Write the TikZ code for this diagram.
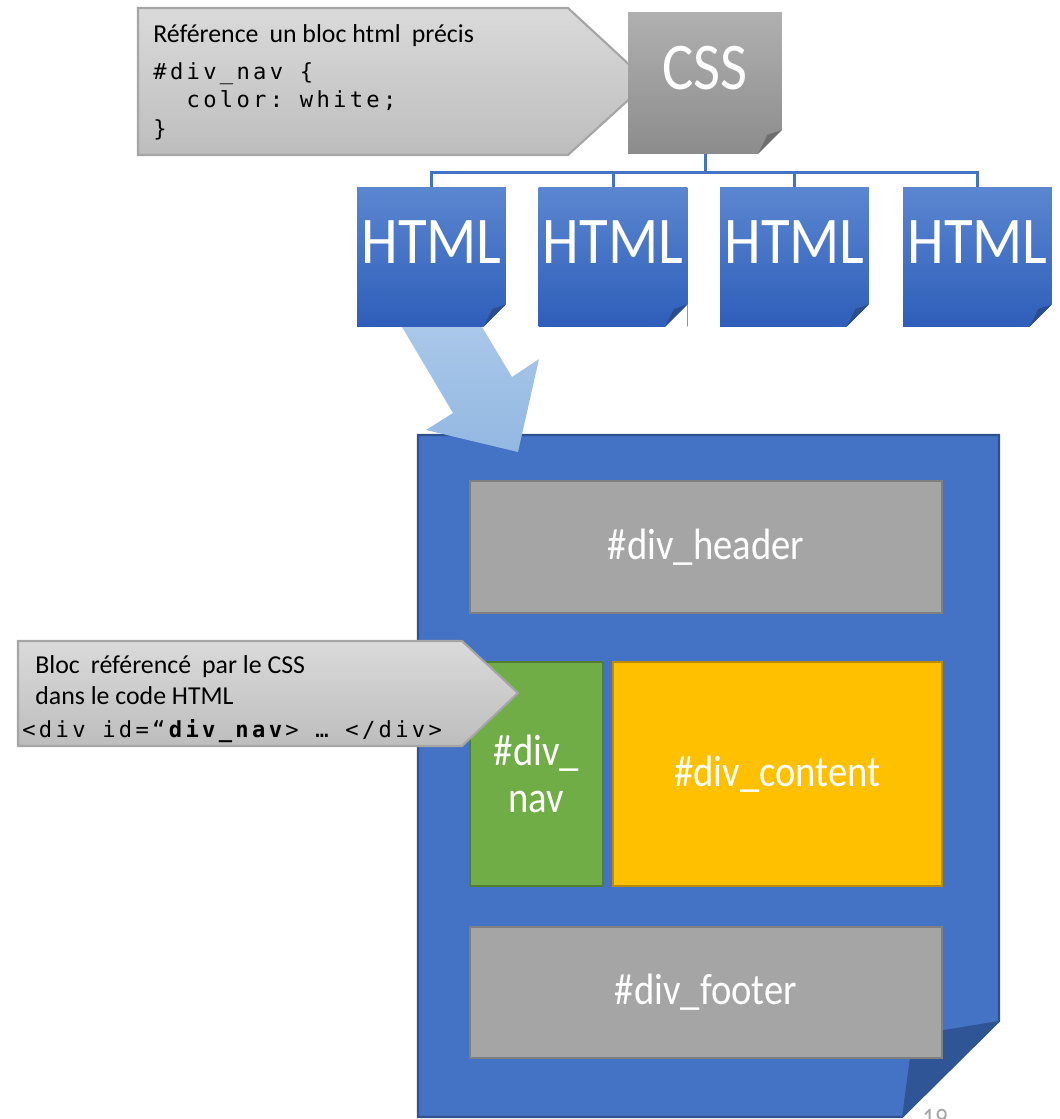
\documentclass[tikz,border=0pt]{standalone}
\usepackage{fontspec}
\setmainfont{Carlito}[FakeStretch=0.88]
\setmonofont{DejaVu Sans Mono}[LetterSpace=15]
\newfontfamily\calloutfont{Carlito}
\usetikzlibrary{calc,positioning}
\definecolor{sl-blue}{HTML}{4472C4}
\definecolor{sl-blueline}{HTML}{2F528F}
\definecolor{sl-bluefold}{HTML}{2F5597}
\definecolor{sl-htmltop}{HTML}{5B86D0}
\definecolor{sl-htmlbot}{HTML}{2E5EBA}
\definecolor{sl-htmlfold}{HTML}{2A4D8F}
\definecolor{sl-csstop}{HTML}{B0B0B0}
\definecolor{sl-cssbot}{HTML}{8C8C8C}
\definecolor{sl-cssfold}{HTML}{6E6E6E}
\definecolor{sl-calltop}{HTML}{DADADA}
\definecolor{sl-callbot}{HTML}{BDBDBD}
\definecolor{sl-callline}{HTML}{A5A5A5}
\definecolor{sl-gray}{HTML}{A5A5A5}
\definecolor{sl-grayline}{HTML}{7F7F7F}
\definecolor{sl-green}{HTML}{70AD47}
\definecolor{sl-greenline}{HTML}{507E32}
\definecolor{sl-gold}{HTML}{FFC000}
\definecolor{sl-goldline}{HTML}{BC8C00}
\definecolor{sl-arrowtop}{HTML}{A9C7E9}
\definecolor{sl-arrowbot}{HTML}{93B8E2}

% dog-ear in the lower right corner of a node (size, colour)
\newcommand\dogear[2]{%
  \fill[white] ([yshift=#1]path picture bounding box.south east)
    -- (path picture bounding box.south east)
    -- ([xshift=-#1]path picture bounding box.south east) -- cycle;
  \fill[#2] ([yshift=#1]path picture bounding box.south east)
    -- ([xshift=-0.6*#1,yshift=0.8*#1]path picture bounding box.south east)
    -- ([xshift=-#1]path picture bounding box.south east) -- cycle;}
\newcommand\wsp{\hspace{0.2em}}

\begin{document}
\begin{tikzpicture}[x=0.02cm, y=-0.02cm,
    docbox/.style={minimum width=2.98cm, minimum height=2.8cm, inner sep=0pt,
      text=white, font=\fontsize{38}{40}\selectfont, text depth=0.6cm,
      top color=sl-htmltop, bottom color=sl-htmlbot,
      path picture={\dogear{0.45cm}{sl-htmlfold}}},
    cssbox/.style={docbox, minimum width=3.08cm, minimum height=2.84cm,
      top color=sl-csstop, bottom color=sl-cssbot,
      path picture={\dogear{0.48cm}{sl-cssfold}}},
    blockbox/.style={draw, line width=1.2pt, inner sep=0pt, text=white,
      font=\fontsize{25}{27}\selectfont, align=center},
    callout/.style={draw=sl-callline, line width=1.2pt,
      top color=sl-calltop, bottom color=sl-callbot},
    calltext/.style={anchor=north west, inner sep=0pt, align=left,
      font=\calloutfont\fontsize{14.7}{18}\selectfont},
    codetext/.style={anchor=north west, inner sep=0pt, align=left,
      font=\ttfamily\fontsize{12.6}{16.4}\selectfont},
    tree/.style={draw=sl-blue, line width=1.7pt}]
  \useasboundingbox (0,0) rectangle (1059,1119);
  \clip (0,0) rectangle (1059,1119);

  % callout towards the CSS sheet
  \path[callout] (138,8) -- (568,8) -- (648,82) -- (568,155) -- (138,155) -- cycle;
  \node[calltext] (reftext) at (153,24) {Référence\wsp{} un bloc html\wsp{} précis};
  \node[codetext] (refcode) at (153,62)
    {\#div\_nav {\char`\{}\\\ \ color: white;\\{\char`\}}};

  % style sheet and pages
  \node[cssbox] (css) at (705,83) {CSS};
  \node[docbox] (html1) at (431.5,257) {HTML};
  \node[docbox] (html2) at (613,257) {HTML};
  \node[docbox] (html3) at (794.5,257) {HTML};
  \node[docbox] (html4) at (977.5,257) {HTML};
  \draw[tree] (css.south) -- ++(0,18) coordinate (bus);
  \foreach \i in {1,...,4}
    \draw[tree] (bus) -| (html\i.north);

  % the page with its blocks
  \filldraw[fill=sl-blue, draw=sl-blueline, line width=1.2pt]
    (418,435) -- (999,435) -- (999,1021) -- (902,1117) -- (418,1117) -- cycle;
  \fill[sl-bluefold] (999,1021) -- (913,1035) -- (902,1117) -- cycle;
  \node[blockbox, fill=sl-gray, draw=sl-grayline, minimum width=9.44cm,
    minimum height=2.64cm] (header) at (706,547) {\#div\_header};
  \node[blockbox, fill=sl-green, draw=sl-greenline, minimum width=2.66cm,
    minimum height=4.48cm] (nav) at (536.5,774) {\#div\_\\nav};
  \node[blockbox, fill=sl-gold, draw=sl-goldline, minimum width=6.58cm,
    minimum height=4.48cm] (content) at (777.5,774) {\#div\_content};
  \node[blockbox, fill=sl-gray, draw=sl-grayline, minimum width=9.44cm,
    minimum height=2.62cm] (footer) at (706,992.5) {\#div\_footer};

  % big arrow from the first page
  \shade[top color=sl-arrowtop, bottom color=sl-arrowbot]
    (402,327) -- (482,327) -- (512,377) -- (539,359) -- (518,452)
    -- (426,430) -- (453,413) -- cycle;

  % callout towards the nav block
  \path[callout] (18,641) -- (462,641) -- (518,693) -- (462,746) -- (18,746) -- cycle;
  \node[calltext, align=left] (bloctext) at (35,655)
    {Bloc\wsp{} référencé\wsp{} par le CSS\\dans le code HTML};
  \node[codetext] (bloccode) at (22,719)
    {<div id=“\textbf{div\_nav}> … </div>};

  \node[anchor=north, inner sep=0pt, text=gray!70, font=\fontsize{16}{16}\selectfont]
    (slidenum) at (935,1109) {19};
\end{tikzpicture}
\end{document}
